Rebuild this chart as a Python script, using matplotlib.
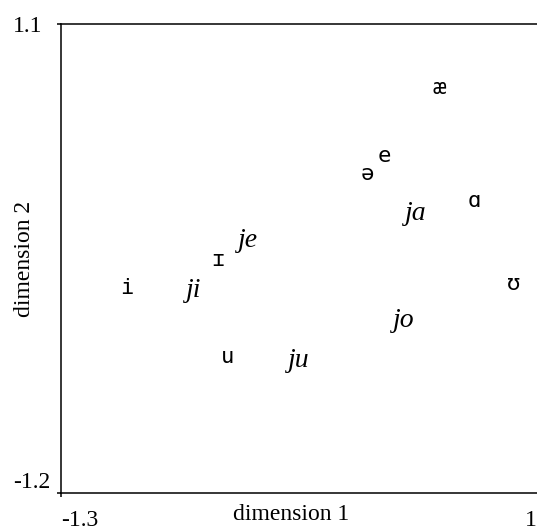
import matplotlib.pyplot as plt
from matplotlib.transforms import ScaledTranslation

# vowel labels (monospace) and glide labels (italic)
vowels = ['æ', 'e', 'ə', 'ɑ', 'ɪ', 'i', 'ʊ', 'u']
vowel_x = [0.526, 0.260, 0.178, 0.695, -0.542, -0.981, 0.888, -0.493]
vowel_y = [0.786, 0.453, 0.365, 0.232, -0.057, -0.194, -0.175, -0.532]

glides = ['ja', 'je', 'ji', 'jo', 'ju']
glide_x = [0.415, -0.397, -0.657, 0.357, -0.150]
glide_y = [0.169, 0.036, -0.209, -0.356, -0.552]

xticks = [-1.3, 1]
yticks = [-1.2, 1.1]

fig = plt.figure(figsize=(5.37, 5.30), dpi=100)
ax = fig.add_axes([61/537, 37/530, 476/537, 469/530])

for lab, x, y in zip(vowels, vowel_x, vowel_y):
    ax.text(x, y, lab, ha='center', va='center', fontsize=16,
            family='DejaVu Sans Mono')
for lab, x, y in zip(glides, glide_x, glide_y):
    ax.text(x, y, lab, ha='center', va='center', fontsize=20,
            family='Liberation Serif', style='italic')

ax.set_xlim(-1.3, 1.0)
ax.set_ylim(-1.2, 1.1)
ax.set_xticks(xticks)
ax.set_xticklabels(['-1.3', '1'])
ax.set_yticks(yticks)
ax.set_yticklabels(['-1.2', '1.1'])
ax.spines['right'].set_visible(False)
for s in ['left', 'top', 'bottom']:
    ax.spines[s].set_linewidth(1.1)
ax.tick_params(direction='out', length=3, width=1.1, labelsize=17)
ax.tick_params(axis='x', pad=9)
ax.tick_params(axis='y', pad=5)
ax.xaxis.get_major_ticks()[1].tick1line.set_visible(False)
xl = ax.get_xticklabels()
xl[0].set_ha('left')
xl[1].set_ha('right')
yl = ax.get_yticklabels()
yl[0].set_va('bottom')
# 1.1 sits a bit further left than -1.2 in the original
yl[1].set_transform(yl[1].get_transform() + ScaledTranslation(-0.07, 0, fig.dpi_scale_trans))
for t in xl + yl:
    t.set_family('Liberation Serif')
ax.set_xlabel('dimension 1', family='Liberation Serif', fontsize=17)
ax.set_ylabel('dimension 2', family='Liberation Serif', fontsize=17)
ax.xaxis.set_label_coords(0.483, -0.024)
ax.yaxis.set_label_coords(-0.055, 0.5)

fig.savefig('out.png', dpi=100)
